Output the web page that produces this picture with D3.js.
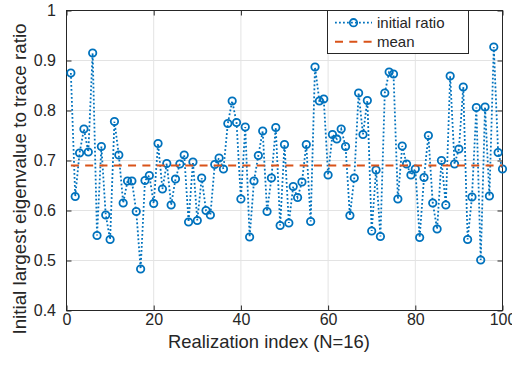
<!DOCTYPE html>
<html><head><meta charset="utf-8">
<script src="https://cdn.jsdelivr.net/npm/d3@7/dist/d3.min.js"></script>
<style>
body{margin:0;background:#fff}
text{font-family:"Liberation Sans",Arial,Helvetica,sans-serif;fill:#262626}
</style>
</head><body>
<svg id="chart" width="512" height="365"></svg>
<script>
// ---- data ----
const ratio = [
  0.875,0.628,0.715,0.763,0.717,0.915,0.550,0.728,0.591,0.542,
  0.778,0.711,0.615,0.659,0.659,0.598,0.483,0.660,0.670,0.614,
  0.734,0.643,0.694,0.611,0.663,0.693,0.711,0.577,0.697,0.580,
  0.665,0.600,0.591,0.692,0.705,0.683,0.774,0.819,0.776,0.623,
  0.767,0.547,0.659,0.710,0.759,0.598,0.665,0.766,0.570,0.732,
  0.575,0.648,0.626,0.657,0.732,0.578,0.887,0.819,0.823,0.671,
  0.752,0.743,0.763,0.728,0.590,0.665,0.835,0.752,0.820,0.559,
  0.681,0.548,0.835,0.877,0.873,0.623,0.729,0.693,0.671,0.683,
  0.546,0.666,0.750,0.615,0.563,0.700,0.611,0.869,0.693,0.723,
  0.847,0.542,0.627,0.806,0.501,0.807,0.629,0.927,0.716,0.683
];
const meanRatio = 0.69;
const xTicks = [0,20,40,60,80,100];
const yTicks = [0.4,0.5,0.6,0.7,0.8,0.9,1];
const yTickLabels = ["0.4","0.5","0.6","0.7","0.8","0.9","1"];
const legendLabels = ["initial ratio","mean"];
const xLabel = "Realization index (N=16)";
const yLabel = "Initial largest eigenvalue to trace ratio";

// ---- drawing ----
const blue = "#0072BD", orange = "#D95319", axisCol = "#262626";
const L = 66.5, R = 502.5, T = 10.5, B = 310.5;
const svg = d3.select("#chart");
const x = d3.scaleLinear().domain([0,100]).range([L,R]);
const y = d3.scaleLinear().domain([0.4,1]).range([B,T]);
const pts = ratio.map((v,i)=>({i:i+1,v}));

// grid
const g = svg.append("g");
g.selectAll(".gx").data(xTicks.slice(1,-1)).join("line")
  .attr("x1",d=>x(d)).attr("x2",d=>x(d)).attr("y1",T).attr("y2",B)
  .attr("stroke","#e3e3e3").attr("stroke-width",1);
g.selectAll(".gy").data(yTicks.slice(1,-1)).join("line")
  .attr("y1",d=>y(d)).attr("y2",d=>y(d)).attr("x1",L).attr("x2",R)
  .attr("stroke","#e3e3e3").attr("stroke-width",1);

// axes
const fs = 16;
const ax = svg.append("g").attr("transform",`translate(0,${B})`)
  .call(d3.axisBottom(x).tickValues(xTicks).tickSizeInner(-5).tickSizeOuter(0).tickPadding(3));
const ay = svg.append("g").attr("transform",`translate(${L},0)`)
  .call(d3.axisLeft(y).tickValues(yTicks).tickFormat((d,i)=>yTickLabels[i]).tickSizeInner(-5).tickSizeOuter(0).tickPadding(10.5));
const axT = svg.append("g").attr("transform",`translate(0,${T})`)
  .call(d3.axisTop(x).tickValues(xTicks).tickSizeInner(-5).tickSizeOuter(0).tickFormat(""));
const ayR = svg.append("g").attr("transform",`translate(${R},0)`)
  .call(d3.axisRight(y).tickValues(yTicks).tickSizeInner(-5).tickSizeOuter(0).tickFormat(""));
[ax,ay,axT,ayR].forEach(a=>{
  a.select(".domain").remove();
  a.selectAll("line").attr("stroke",axisCol);
  a.selectAll("text").attr("font-size",fs).attr("fill",axisCol)
   .style("font-family",'"Liberation Sans",Arial,sans-serif');
});
svg.append("rect").attr("x",L).attr("y",T).attr("width",R-L).attr("height",B-T)
  .attr("fill","none").attr("stroke",axisCol).attr("stroke-width",1);

// data series
const line = d3.line().x(d=>x(d.i)).y(d=>y(d.v));
svg.append("path").datum(pts).attr("d",line)
  .attr("fill","none").attr("stroke",blue).attr("stroke-width",1.8)
  .attr("stroke-dasharray","1.8,2.2");
svg.append("g").selectAll("circle").data(pts).join("circle")
  .attr("cx",d=>x(d.i)).attr("cy",d=>y(d.v)).attr("r",3.7)
  .attr("fill","none").attr("stroke",blue).attr("stroke-width",1.8);

// mean line
svg.append("line").attr("x1",x(1)).attr("x2",x(100))
  .attr("y1",y(meanRatio)).attr("y2",y(meanRatio))
  .attr("stroke",orange).attr("stroke-width",2).attr("stroke-dasharray","8,6.3");

// labels
svg.append("text").attr("x",269).attr("y",347.5).attr("text-anchor","middle")
  .attr("font-size",18.4).text(xLabel);
svg.append("text").attr("transform","translate(26,179) rotate(-90)")
  .attr("text-anchor","middle").attr("font-size",18.8).text(yLabel);

// legend
const lg = svg.append("g");
lg.append("rect").attr("x",327.5).attr("y",10.5).attr("width",141).attr("height",43)
  .attr("fill","#fff").attr("stroke",axisCol).attr("stroke-width",1);
lg.append("line").attr("x1",335).attr("x2",372).attr("y1",22.7).attr("y2",22.7)
  .attr("stroke",blue).attr("stroke-width",1.8).attr("stroke-dasharray","1.8,2.2");
lg.append("circle").attr("cx",353.5).attr("cy",22.7).attr("r",3.7)
  .attr("fill","none").attr("stroke",blue).attr("stroke-width",1.8);
lg.append("line").attr("x1",335).attr("x2",372).attr("y1",41.7).attr("y2",41.7)
  .attr("stroke",orange).attr("stroke-width",2).attr("stroke-dasharray","8,6.3");
lg.selectAll(".lt").data(legendLabels).join("text")
  .attr("x",377).attr("y",(d,i)=>28 + i*19).attr("font-size",15).text(d=>d);
</script>
</body></html>
